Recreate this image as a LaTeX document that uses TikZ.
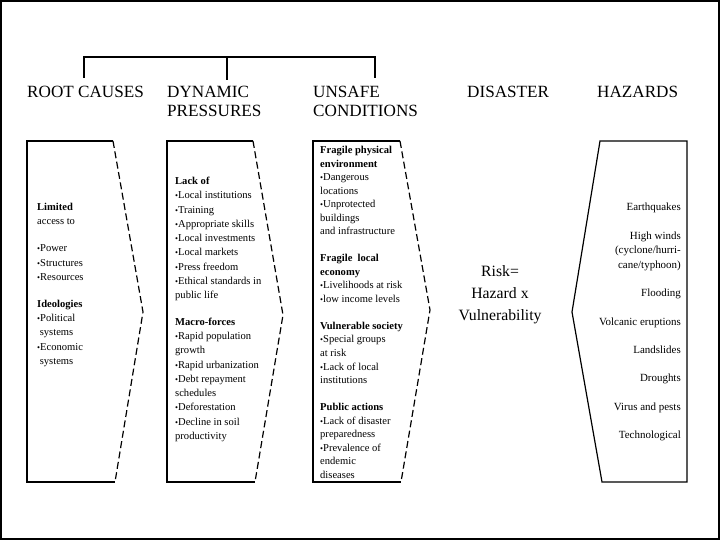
\documentclass[tikz,border=0pt]{standalone}
\usepackage{fontspec}
\setmainfont{Liberation Serif}
\newcommand\mybul{{\fontsize{8.5}{8}\selectfont•}}
\begin{document}
\begin{tikzpicture}[x=1bp,y=-1bp,
  frame/.style={line width=2bp},
  box/.style={line width=1.2bp},
  edge/.style={line width=1.2bp, dash pattern=on 7bp off 3.5bp},
  head/.style={font=\fontsize{17.2}{19}\selectfont, anchor=north west, inner sep=0pt, align=left},
  txt/.style={font=\fontsize{10.6}{14.3}\selectfont, anchor=north west, inner sep=0pt, align=left},
]
\useasboundingbox (0,0) rectangle (720,540);
\draw[frame] (1,1) rectangle (719,539);

% headers
\node[head] (rc) at (27,86) {ROOT CAUSES};
\node[head] (dp) at (167,86) {DYNAMIC\\PRESSURES};
\node[head] (uc) at (313,86) {UNSAFE\\CONDITIONS};
\node[head] (ds) at (467,86) {DISASTER};
\node[head] (hz) at (597,86) {HAZARDS};

% bracket
\coordinate (b1) at (84,78);
\coordinate (b2) at (227,80);
\coordinate (b3) at (375,78);
\draw[box] (b1) -- (84,57) -- (375,57) -- (b3);
\draw[line width=2bp] (227,57) -- (b2);

% boxes
\draw[box] (113,141) -- (27,141) -- (27,482) -- (115,482);
\draw[edge] (113,141) -- (143,312) -- (115,482);

\draw[box] (253,141) -- (167,141) -- (167,482) -- (255,482);
\draw[edge] (253,141) -- (283,315) -- (255,482);

\draw[box] (400,141) -- (313,141) -- (313,482) -- (401,482);
\draw[edge] (400,141) -- (430,310) -- (401,482);

\draw[box] (600,141) -- (687,141) -- (687,482) -- (602,482) -- (572,312) -- cycle;

% texts
\node[txt] (t1) at (37,203) {\textbf{Limited}\\access to\\[12.8bp]
\mybul Power\\\mybul Structures\\\mybul Resources\\[12.8bp]
\textbf{Ideologies}\\\mybul Political\\\ systems\\\mybul Economic\\\ systems};

\node[txt] (t2) at (175,177) {\textbf{Lack of}\\\mybul Local institutions\\\mybul Training\\
\mybul Appropriate skills\\\mybul Local investments\\\mybul Local markets\\
\mybul Press freedom\\\mybul Ethical standards in\\public life\\[12.6bp]
\textbf{Macro-forces}\\\mybul Rapid population\\growth\\\mybul Rapid urbanization\\
\mybul Debt repayment\\schedules\\\mybul Deforestation\\\mybul Decline in soil\\productivity};

\node[txt, font=\fontsize{10.6}{13.6}\selectfont] (t3) at (320,146) {\textbf{Fragile physical}\\\textbf{environment}\\
\mybul Dangerous\\locations\\\mybul Unprotected\\buildings\\and infrastructure\\[13.4bp]
\textbf{Fragile\ \ local}\\\textbf{economy}\\\mybul Livelihoods at risk\\\mybul low income levels\\[13.4bp]
\textbf{Vulnerable society}\\\mybul Special groups\\at risk\\\mybul Lack of local\\institutions\\[13.4bp]
\textbf{Public actions}\\\mybul Lack of disaster\\preparedness\\\mybul Prevalence of\\endemic\\diseases};

\node[txt, anchor=north east, align=right, font=\fontsize{11}{14.5}\selectfont] (t4) at (681,203)
{Earthquakes\\[14bp]High winds\\(cyclone/hurri-\\cane/typhoon)\\[14bp]Flooding\\[14bp]
Volcanic eruptions\\[14bp]Landslides\\[14bp]Droughts\\[14bp]Virus and pests\\[14bp]Technological};

\node[font=\fontsize{15.8}{22}\selectfont, align=center, inner sep=0pt] (risk) at (500,295)
{Risk=\\Hazard x\\Vulnerability};
\end{tikzpicture}
\end{document}
